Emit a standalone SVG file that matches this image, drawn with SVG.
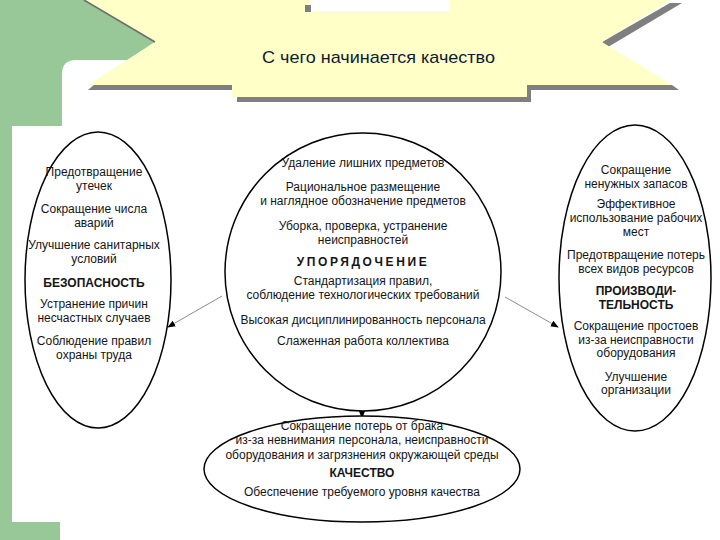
<svg xmlns="http://www.w3.org/2000/svg" width="720" height="540" viewBox="0 0 720 540">
<defs>
<style>
.bg{fill:#98c898}
.ban{fill:#ffffc8}
.sh{fill:#7f7f7f}
.el{fill:#ffffff;stroke:#000;stroke-width:1.5}
.t{font-family:"Liberation Sans",Arial,sans-serif;font-size:12px;fill:#151515;text-anchor:middle}
.b{font-weight:bold}
.title{font-family:"Liberation Sans",Arial,sans-serif;font-size:17px;fill:#0d1a33}
.con{stroke:#8c8c8c;stroke-width:1;fill:none}
</style>
<marker id="ah" viewBox="0 0 10 10" refX="9" refY="5" markerWidth="8" markerHeight="8" orient="auto" markerUnits="userSpaceOnUse">
<path d="M0,1 L10,5 L0,9 Z" fill="#000"/>
</marker>
</defs>
<rect width="720" height="540" fill="#fff"/>
<path class="bg" d="M0,0 H84 L155,42 L128,60 H76 Q62,60 62,74 V126 H12 V522 H60 V540 H0 Z"/>
<g id="banner">
<path class="sh" d="M88,90 L95,84 H232 V90 Z"/>
<path class="sh" d="M237,97 H527 V85 H672 L679,90 H531 V102 H237 Z"/>
<path class="sh" d="M602,42 L670,3 L682,3 L608,47 Z"/>
<path class="ban" d="M84,0 L155,42 L88,85 H232 V97 H527 V85 H672 L602,42 L670,0 Z"/>
<line x1="84" y1="0" x2="155" y2="42" stroke="#6e6e6e" stroke-width="1.6"/>
<rect x="310" y="0" width="140" height="11" fill="#fff"/>
<rect x="305" y="5" width="6" height="7" class="sh"/>
<text class="title" x="262" y="63" textLength="233" lengthAdjust="spacingAndGlyphs">С чего начинается качество</text>
</g>
<g id="connectors">
<line class="con" x1="222" y1="296" x2="168" y2="327" marker-end="url(#ah)"/>
<line class="con" x1="505" y1="297" x2="558" y2="327" marker-end="url(#ah)"/>
<line class="con" x1="362" y1="410" x2="362" y2="418" marker-end="url(#ah)"/>
</g>
<g id="safety">
<ellipse class="el" cx="98" cy="280" rx="73" ry="148"/>
<text class="t" x="94" y="176">Предотвращение</text>
<text class="t" x="94" y="190">утечек</text>
<text class="t" x="94" y="213">Сокращение числа</text>
<text class="t" x="94" y="227">аварий</text>
<text class="t" x="94" y="249">Улучшение санитарных</text>
<text class="t" x="94" y="263">условий</text>
<text class="t b" x="94" y="287">БЕЗОПАСНОСТЬ</text>
<text class="t" x="94" y="308">Устранение причин</text>
<text class="t" x="94" y="322">несчастных случаев</text>
<text class="t" x="94" y="345">Соблюдение правил</text>
<text class="t" x="94" y="359">охраны труда</text>
</g>
<g id="order">
<ellipse class="el" cx="363" cy="272" rx="138" ry="139"/>
<text class="t" x="363" y="167">Удаление лишних предметов</text>
<text class="t" x="363" y="191">Рациональное размещение</text>
<text class="t" x="363" y="205">и наглядное обозначение предметов</text>
<text class="t" x="363" y="230">Уборка, проверка, устранение</text>
<text class="t" x="363" y="244">неисправностей</text>
<text class="t b" x="363" y="266" letter-spacing="2.6">УПОРЯДОЧЕНИЕ</text>
<text class="t" x="363" y="285">Стандартизация правил,</text>
<text class="t" x="363" y="299">соблюдение технологических требований</text>
<text class="t" x="363" y="324">Высокая дисциплинированность персонала</text>
<text class="t" x="363" y="345">Слаженная работа коллектива</text>
</g>
<g id="productivity">
<ellipse class="el" cx="635" cy="278" rx="76" ry="153"/>
<text class="t" x="636" y="174">Сокращение</text>
<text class="t" x="636" y="188">ненужных запасов</text>
<text class="t" x="636" y="208">Эффективное</text>
<text class="t" x="636" y="222">использование рабочих</text>
<text class="t" x="636" y="236">мест</text>
<text class="t" x="636" y="259">Предотвращение потерь</text>
<text class="t" x="636" y="273">всех видов ресурсов</text>
<text class="t b" x="636" y="295">ПРОИЗВОДИ-</text>
<text class="t b" x="636" y="309">ТЕЛЬНОСТЬ</text>
<text class="t" x="636" y="330">Сокращение простоев</text>
<text class="t" x="636" y="344">из-за неисправности</text>
<text class="t" x="636" y="357">оборудования</text>
<text class="t" x="636" y="381">Улучшение</text>
<text class="t" x="636" y="394">организации</text>
</g>
<g id="quality">
<ellipse class="el" cx="362" cy="469" rx="158" ry="53"/>
<text class="t" x="362" y="430">Сокращение потерь от брака</text>
<text class="t" x="362" y="444">из-за невнимания персонала, неисправности</text>
<text class="t" x="362" y="459">оборудования и загрязнения окружающей среды</text>
<text class="t b" x="362" y="477">КАЧЕСТВО</text>
<text class="t" x="362" y="496">Обеспечение требуемого уровня качества</text>
</g>
</svg>
